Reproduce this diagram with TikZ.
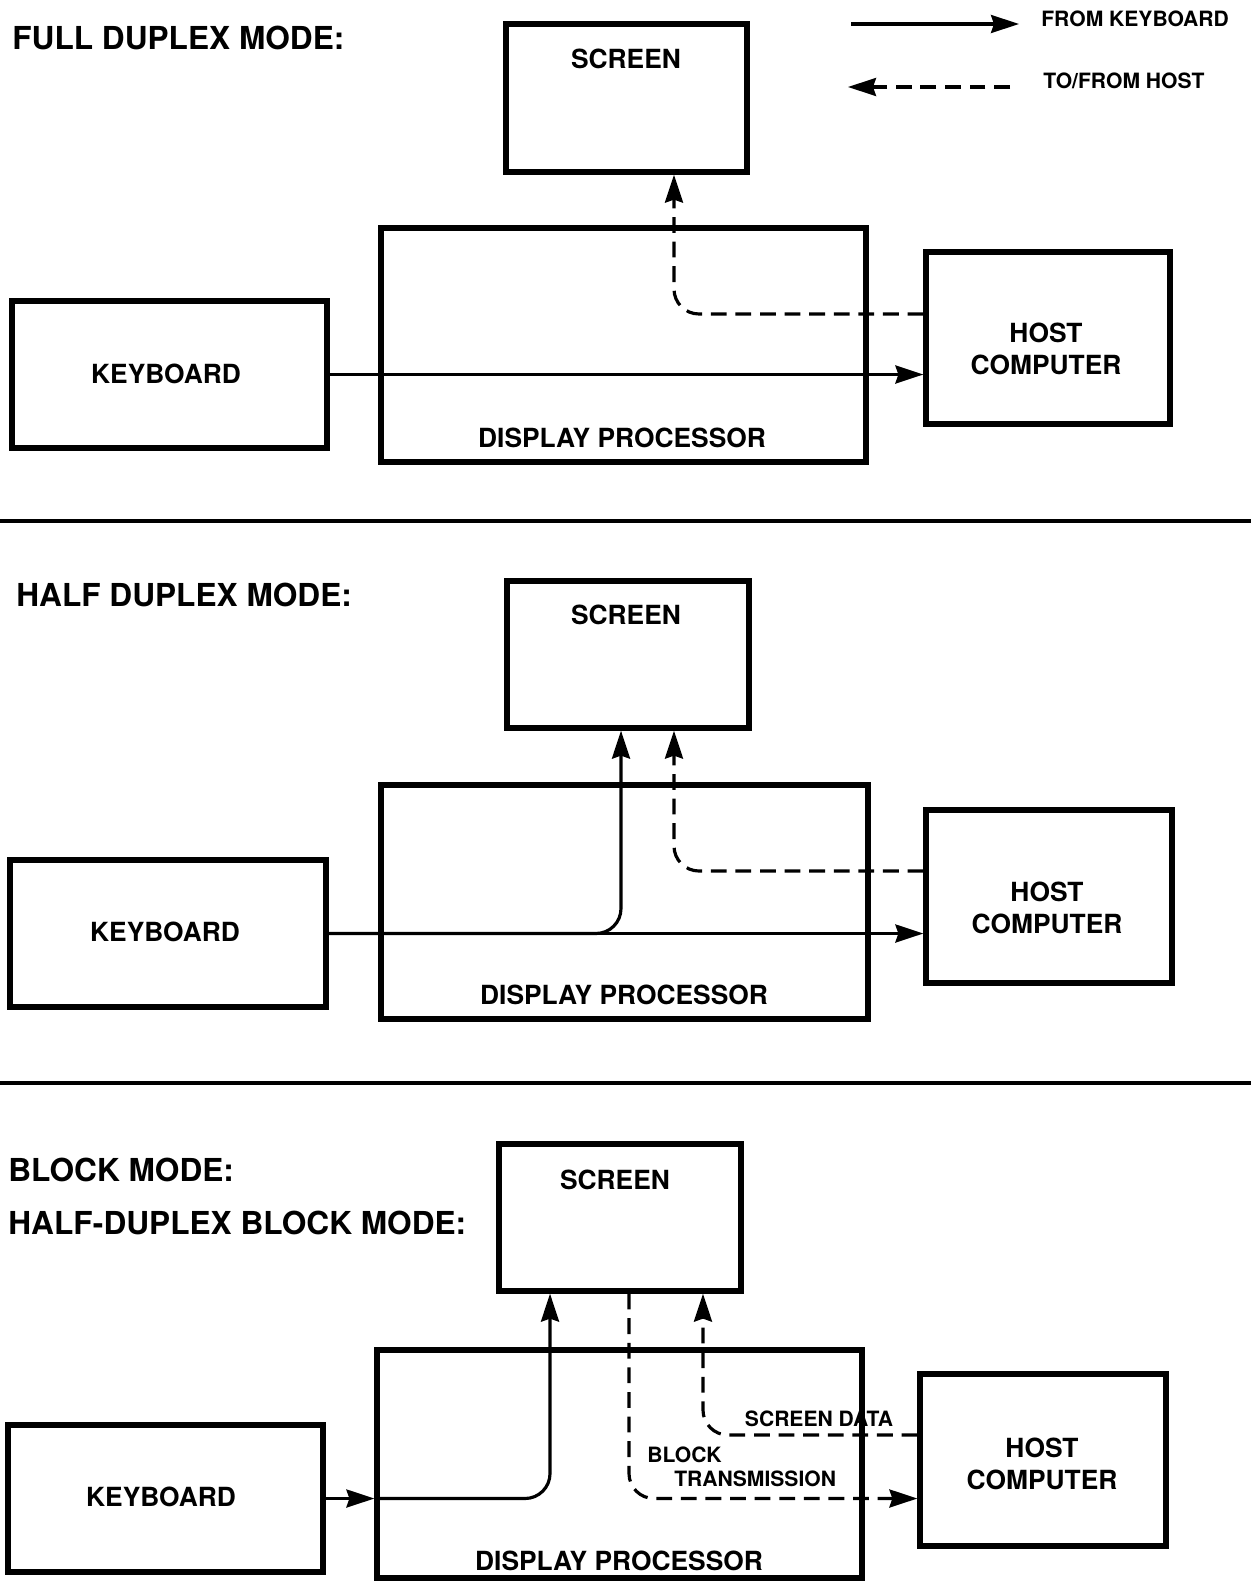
\documentclass[tikz,border=0pt]{standalone}
\usepackage{fontspec}
\setmainfont{TeX Gyre Heros}
\usepackage{tikz}
\usetikzlibrary{arrows.meta}

\begin{document}
\begin{tikzpicture}[x=0.02cm,y=-0.02cm]
  \tikzset{blockbox/.style={rectangle,draw=black,line width=3pt,inner sep=0pt}}
  \tikzset{boxlabel/.style={font=\fontsize{15}{18}\selectfont\bfseries,inner sep=0pt,align=center}}
  \tikzset{modehead/.style={font=\fontsize{18}{22}\selectfont\bfseries,anchor=west,inner sep=0pt}}
  \tikzset{flowlabel/.style={font=\fontsize{12}{14}\selectfont\bfseries,inner sep=0pt}}
  \tikzset{kbflow/.style={draw=black,line width=1.8pt,-{Stealth[length=0.56cm,width=0.36cm,inset=0.06cm]}}}
  \tikzset{hostflow/.style={kbflow,dash pattern=on 9pt off 5pt}}
  \tikzset{sepline/.style={draw=black,line width=1.8pt}}
  \useasboundingbox (0,0) rectangle (1251,1582);
  % legend
  \coordinate (lgsa) at (851,24);
  \coordinate (lgsb) at (1019,24);
  \coordinate (lgda) at (1010,87);
  \coordinate (lgdb) at (848,87);
  \draw[kbflow] (lgsa) -- (lgsb);
  \draw[hostflow] (lgda) -- (lgdb);
  \node[flowlabel,anchor=west] (lgkb) at (1041,19) {FROM KEYBOARD};
  \node[flowlabel,anchor=west] (lghost) at (1043,81) {TO/FROM HOST};
  % full duplex
  \node[modehead] (head1) at (12,38) {FULL DUPLEX MODE:};
  \node[blockbox,minimum width=4.82cm,minimum height=2.96cm] (scr1) at (626.5,98) {};
  \node[blockbox,minimum width=9.70cm,minimum height=4.68cm] (dp1) at (623.5,345) {};
  \node[blockbox,minimum width=6.30cm,minimum height=2.94cm] (kb1) at (169.5,374.5) {};
  \node[blockbox,minimum width=4.88cm,minimum height=3.44cm] (host1) at (1048,338) {};
  \node[boxlabel] (scr1lbl) at (626,59) {SCREEN};
  \node[boxlabel] (dp1lbl) at (622,438) {DISPLAY PROCESSOR};
  \node[boxlabel] (kb1lbl) at (166,374) {KEYBOARD};
  \node[boxlabel] (host1lbl) at (1046,349) {HOST\\COMPUTER};
  \draw[kbflow] (kb1.east) -- (host1.west |- kb1.east);
  \draw[hostflow,rounded corners=0.5cm] ([yshift=0.48cm]host1.west) -| ([xshift=0.95cm]scr1.south);
  % separator
  \coordinate (sep1a) at (0,521);
  \coordinate (sep1b) at (1251,521);
  \draw[sepline] (sep1a) -- (sep1b);
  % half duplex
  \node[modehead] (head2) at (16,595) {HALF DUPLEX MODE:};
  \node[blockbox,minimum width=4.84cm,minimum height=2.94cm] (scr2) at (628,654.5) {};
  \node[blockbox,minimum width=9.74cm,minimum height=4.68cm] (dp2) at (624.5,902) {};
  \node[blockbox,minimum width=6.32cm,minimum height=2.94cm] (kb2) at (168,933.5) {};
  \node[blockbox,minimum width=4.92cm,minimum height=3.46cm] (host2) at (1049,896.5) {};
  \node[boxlabel] (scr2lbl) at (626,615) {SCREEN};
  \node[boxlabel] (dp2lbl) at (624,995) {DISPLAY PROCESSOR};
  \node[boxlabel] (kb2lbl) at (165,932) {KEYBOARD};
  \node[boxlabel] (host2lbl) at (1047,908) {HOST\\COMPUTER};
  \draw[kbflow] (kb2.east) -- (host2.west |- kb2.east);
  \draw[kbflow,rounded corners=0.5cm] (kb2.east) -| ([xshift=-0.14cm]scr2.south);
  \draw[hostflow,rounded corners=0.5cm] ([yshift=0.51cm]host2.west) -| ([xshift=0.92cm]scr2.south);
  % separator
  \coordinate (sep2a) at (0,1083);
  \coordinate (sep2b) at (1251,1083);
  \draw[sepline] (sep2a) -- (sep2b);
  % block mode
  \node[modehead] (head3) at (8,1170) {BLOCK MODE:};
  \node[modehead] (head4) at (8,1223) {HALF-DUPLEX BLOCK MODE:};
  \node[blockbox,minimum width=4.84cm,minimum height=2.94cm] (scr3) at (620,1217.5) {};
  \node[blockbox,minimum width=9.70cm,minimum height=4.56cm] (dp3) at (619.5,1464) {};
  \node[blockbox,minimum width=6.30cm,minimum height=2.94cm] (kb3) at (165.5,1498.5) {};
  \node[blockbox,minimum width=4.92cm,minimum height=3.44cm] (host3) at (1043,1460) {};
  \node[boxlabel] (scr3lbl) at (615,1180) {SCREEN};
  \node[boxlabel] (dp3lbl) at (619,1561) {DISPLAY PROCESSOR};
  \node[boxlabel] (kb3lbl) at (161,1497) {KEYBOARD};
  \node[boxlabel] (host3lbl) at (1042,1464) {HOST\\COMPUTER};
  \draw[kbflow] (kb3.east) -- (kb3.east -| dp3.west);
  \draw[kbflow,rounded corners=0.5cm] (kb3.east -| dp3.west) -| ([xshift=-1.40cm]scr3.south);
  \draw[hostflow,rounded corners=0.5cm] ([xshift=0.18cm]scr3.south) |- (host3.west |- kb3.east);
  \draw[hostflow,rounded corners=0.5cm] ([yshift=0.50cm]host3.west) -| ([xshift=1.66cm]scr3.south);
  \node[flowlabel] (sdlbl) at (819,1419) {SCREEN DATA};
  \node[flowlabel,anchor=west] (btlbl) at (647,1455) {BLOCK};
  \node[flowlabel,anchor=west] (trlbl) at (674,1479) {TRANSMISSION};
\end{tikzpicture}
\end{document}
